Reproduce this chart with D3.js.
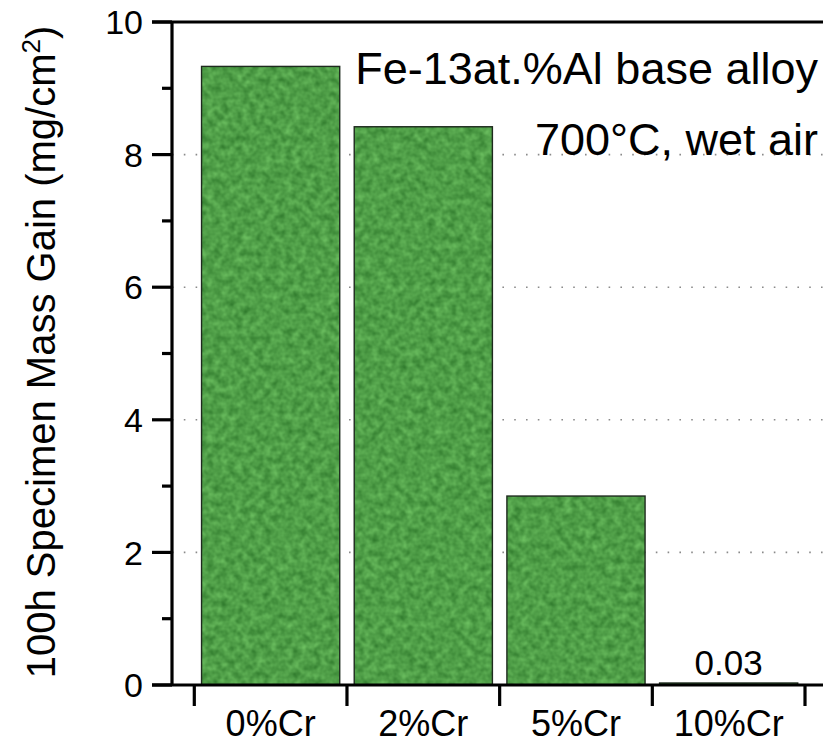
<!DOCTYPE html>
<html>
<head>
<meta charset="utf-8">
<script src="https://cdn.jsdelivr.net/npm/d3@7"></script>
<style>
  html, body { margin: 0; padding: 0; background: #fff; }
  svg { display: block; font-family: "Liberation Sans", Arial, Helvetica, sans-serif; }
</style>
</head>
<body>
<svg id="chart" width="823" height="744"></svg>
<script>
// Mass gain after 100 h at 700 °C in wet air, by Cr addition
const categories = ["0%Cr", "2%Cr", "5%Cr", "10%Cr"];
const massGain = [9.33, 8.42, 2.85, 0.03];
const labeledValues = [null, null, null, "0.03"];
const yTicks = [0, 2, 4, 6, 8, 10];
const yMinorTicks = [1, 3, 5, 7, 9];
const gridValues = [2, 4, 6, 8];
const yTitle = "100h Specimen Mass Gain (mg/cm";
const noteLines = ["Fe-13at.%Al base alloy", "700°C, wet air"];

const W = 823, H = 744;
const axisX = 172, plotTop = 22, plotBase = 685;

const svg = d3.select("#chart");

const rows = categories.map((c, i) => ({ cat: c, value: massGain[i], label: labeledValues[i] }));

// mottled green fill for the bars
const defs = svg.append("defs");
const f = defs.append("filter").attr("id", "mottle")
  .attr("color-interpolation-filters", "sRGB")
  .attr("x", 0).attr("y", 0).attr("width", 1).attr("height", 1);
f.append("feTurbulence").attr("type", "fractalNoise")
  .attr("baseFrequency", 0.14).attr("numOctaves", 2).attr("seed", 7).attr("result", "noise");
f.append("feColorMatrix").attr("in", "noise").attr("type", "matrix")
  .attr("values", [
    "0.28 0 0 0 0.17",
    "0.32 0 0 0 0.46",
    "0.24 0 0 0 0.16",
    "0 0 0 0 1"].join(" "))
  .attr("result", "green");
f.append("feComposite").attr("in", "green").attr("in2", "SourceGraphic").attr("operator", "in");

const y = d3.scaleLinear().domain([0, 10]).range([plotBase, plotTop]);
const x = d3.scaleBand().domain(categories)
  .range([194.3, 805]).paddingInner(0.095).paddingOuter(0.0475);

// dotted grid lines
svg.append("g").selectAll("line").data(gridValues).join("line")
  .attr("x1", axisX).attr("x2", W)
  .attr("y1", d => y(d)).attr("y2", d => y(d))
  .attr("stroke", "#8a8a8a").attr("stroke-width", 1.6)
  .attr("stroke-dasharray", "1.6 10.2");

// bars
const bars = svg.append("g");
bars.selectAll("rect.fill").data(rows).join("rect")
  .attr("class", "fill")
  .attr("x", d => x(d.cat))
  .attr("y", d => y(d.value))
  .attr("width", x.bandwidth())
  .attr("height", d => plotBase - y(d.value))
  .attr("fill", "#4c9c48")
  .attr("filter", "url(#mottle)");
bars.selectAll("rect.edge").data(rows).join("rect")
  .attr("class", "edge")
  .attr("x", d => x(d.cat))
  .attr("y", d => y(d.value))
  .attr("width", x.bandwidth())
  .attr("height", d => plotBase - y(d.value))
  .attr("fill", "none")
  .attr("stroke", "#1e2a1e").attr("stroke-width", 1.4);

// value label on the smallest bar
svg.append("g").selectAll("text").data(rows.filter(d => d.label !== null)).join("text")
  .attr("x", d => x(d.cat) + x.bandwidth() / 2)
  .attr("y", d => y(d.value) - 8)
  .attr("text-anchor", "middle")
  .attr("font-size", 35)
  .text(d => d.label);

// frame: top line, left axis, baseline
const ink = svg.append("g").attr("stroke", "#000").attr("stroke-width", 3.2).attr("fill", "none");
ink.append("line").attr("x1", 152).attr("x2", W).attr("y1", y(10)).attr("y2", y(10));
ink.append("line").attr("x1", axisX).attr("x2", axisX).attr("y1", y(10)).attr("y2", y(0));
ink.append("line").attr("x1", 152).attr("x2", W).attr("y1", y(0)).attr("y2", y(0));

// y ticks
ink.selectAll("line.maj").data(yTicks).join("line").attr("class", "maj")
  .attr("x1", 152).attr("x2", axisX).attr("y1", d => y(d)).attr("y2", d => y(d));
ink.selectAll("line.min").data(yMinorTicks).join("line").attr("class", "min")
  .attr("x1", 162).attr("x2", axisX).attr("y1", d => y(d)).attr("y2", d => y(d));

svg.append("g").selectAll("text").data(yTicks).join("text")
  .attr("x", 143).attr("y", d => y(d))
  .attr("dy", "0.36em")
  .attr("text-anchor", "end")
  .attr("font-size", 34)
  .text(d => d);

// x ticks at band boundaries
const half = x.step() * x.paddingInner() / 2;
const bounds = categories.map(c => x(c) - half)
  .concat([x(categories[categories.length - 1]) + x.bandwidth() + half]);
ink.selectAll("line.xt").data(bounds).join("line").attr("class", "xt")
  .attr("x1", d => d).attr("x2", d => d).attr("y1", plotBase).attr("y2", plotBase + 21);

svg.append("g").selectAll("text").data(categories).join("text")
  .attr("x", d => x(d) + x.bandwidth() / 2)
  .attr("y", 736)
  .attr("text-anchor", "middle")
  .attr("font-size", 36)
  .text(d => d);

// y title
const yt = svg.append("text")
  .attr("transform", "translate(55," + 352 + ") rotate(-90)")
  .attr("text-anchor", "middle")
  .attr("font-size", 40);
yt.append("tspan").text(yTitle);
yt.append("tspan").attr("font-size", 26).attr("dy", -15).text("2");
yt.append("tspan").attr("dy", 15).text(")");

// condition note
svg.append("g").selectAll("text").data(noteLines).join("text")
  .attr("x", 818)
  .attr("y", (d, i) => [84, 155][i])
  .attr("text-anchor", "end")
  .attr("font-size", 45)
  .text(d => d);
</script>
</body>
</html>
